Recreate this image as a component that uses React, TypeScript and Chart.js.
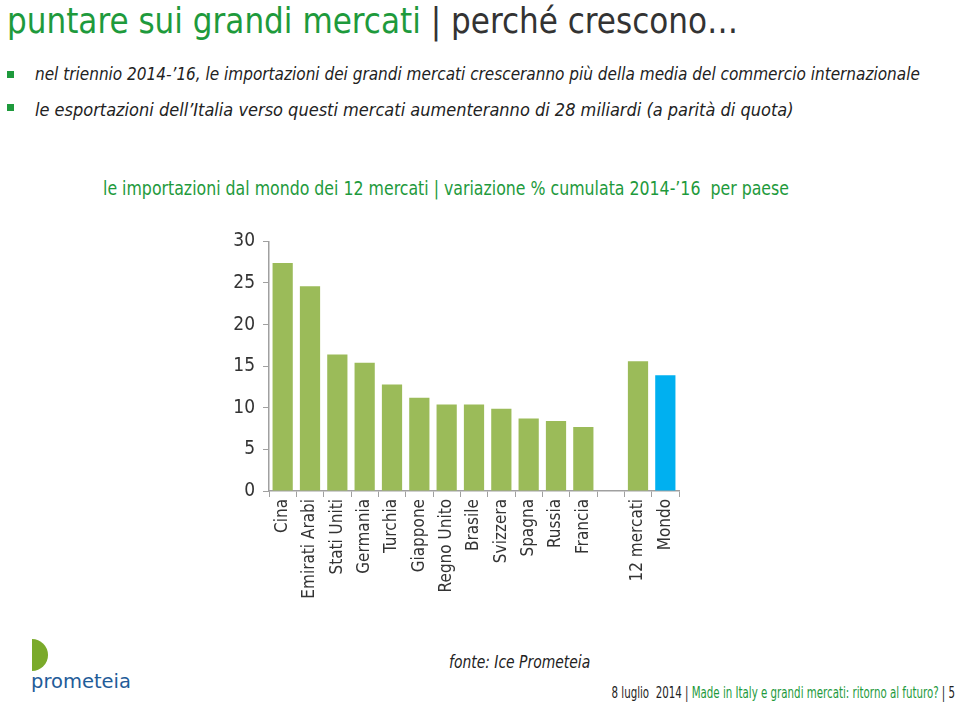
import React, { useEffect, useRef } from "react";
import { Chart, registerables } from "chart.js";

Chart.register(...registerables);

const categories = [
  "Cina",
  "Emirati Arabi",
  "Stati Uniti",
  "Germania",
  "Turchia",
  "Giappone",
  "Regno Unito",
  "Brasile",
  "Svizzera",
  "Spagna",
  "Russia",
  "Francia",
  "",
  "12 mercati",
  "Mondo",
];
const values: (number | null)[] = [27.4, 24.6, 16.4, 15.4, 12.8, 11.2, 10.4, 10.4, 9.9, 8.7, 8.4, 7.7, null, 15.6, 13.9];
const barColors = [
  "#9bbb59", "#9bbb59", "#9bbb59", "#9bbb59", "#9bbb59", "#9bbb59", "#9bbb59",
  "#9bbb59", "#9bbb59", "#9bbb59", "#9bbb59", "#9bbb59", "#9bbb59", "#9bbb59", "#00b0f0",
];
const yTicks = [0, 5, 10, 15, 20, 25, 30];

const FONT = '"Liberation Sans Narrow", "DejaVu Sans Condensed", "Open Sans", sans-serif';
const GREEN = "#1e9a3c";

const sx = (k: number, origin = "left"): React.CSSProperties => ({
  display: "inline-block",
  transform: `scaleX(${k})`,
  transformOrigin: `${origin} center`,
});

export default function App() {
  const ref = useRef<HTMLCanvasElement | null>(null);
  useEffect(() => {
    if (!ref.current) return;
    const chart = new Chart(ref.current, {
      type: "bar",
      data: {
        labels: categories,
        datasets: [
          {
            data: values,
            backgroundColor: barColors,
            barPercentage: 0.74,
            categoryPercentage: 1,
          },
        ],
      },
      options: {
        animation: false,
        responsive: false,
        maintainAspectRatio: false,
        layout: { padding: { top: 12, right: 21, left: 0, bottom: 0 } },
        plugins: { legend: { display: false }, tooltip: { enabled: false } },
        scales: {
          x: {
            offset: true,
            grid: {
              offset: true,
              drawOnChartArea: false,
              drawTicks: true,
              tickLength: 6,
              color: "#a0a0a0",
            },
            border: { color: "#a0a0a0", width: 1.5 },
            ticks: {
              autoSkip: false,
              minRotation: 90,
              maxRotation: 90,
              padding: 2,
              color: "#333",
              font: { family: FONT, size: 17 },
            },
            afterFit: (s: any) => {
              s.height = 121;
            },
          },
          y: {
            min: 0,
            max: 30,
            afterBuildTicks: (s: any) => {
              s.ticks = yTicks.map((v) => ({ value: v }));
            },
            grid: {
              drawOnChartArea: false,
              drawTicks: true,
              tickLength: 6,
              color: "#a0a0a0",
            },
            border: { color: "#a0a0a0", width: 1.5 },
            ticks: {
              padding: 8,
              color: "#333",
              font: { family: FONT, size: 19 },
            },
            afterFit: (s: any) => {
              s.width = 69;
            },
          },
        },
      },
    });
    return () => chart.destroy();
  }, []);

  const bullet = (top: number) => (
    <div style={{ position: "absolute", left: 7, top, width: 7, height: 7, background: "#1e9a3c" }} />
  );

  return (
    <div style={{ position: "fixed", left: 0, top: 0, width: 960, height: 704, background: "#fff", fontFamily: FONT, overflow: "hidden" }}>
      <div style={{ position: "absolute", left: 7, top: 1, fontSize: 36, lineHeight: "40px", whiteSpace: "nowrap" }}>
        <span style={sx(0.96)}>
          <span style={{ color: GREEN }}>puntare sui grandi mercati</span>
          <span style={{ color: "#333" }}> | perché crescono…</span>
        </span>
      </div>
      {bullet(71)}
      <div style={{ position: "absolute", left: 35, top: 63, fontSize: 18, fontStyle: "italic", color: "#222", whiteSpace: "nowrap" }}>
        <span style={sx(0.945)}>
          nel triennio 2014-’16, le importazioni dei grandi mercati cresceranno più della media del commercio internazionale
        </span>
      </div>
      {bullet(104)}
      <div style={{ position: "absolute", left: 35, top: 99, fontSize: 18, fontStyle: "italic", color: "#222", whiteSpace: "nowrap" }}>
        le esportazioni dell’Italia verso questi mercati aumenteranno di 28 miliardi (a parità di quota)
      </div>
      <div style={{ position: "absolute", left: 103, top: 177, fontSize: 19, color: GREEN, whiteSpace: "nowrap" }}>
        <span style={sx(0.923)}>
          le importazioni dal mondo dei 12 mercati | variazione % cumulata 2014-’16&nbsp; per paese
        </span>
      </div>
      <canvas ref={ref} width={500} height={390} style={{ position: "absolute", left: 200, top: 222, width: 500, height: 390 }} />
      <div style={{ position: "absolute", left: 32, top: 639, width: 16, height: 32, background: "#7aaa2a", borderRadius: "0 16px 16px 0" }} />
      <div style={{ position: "absolute", left: 31, top: 670, fontSize: 19.5, color: "#1f5c99", fontFamily: '"DejaVu Sans", sans-serif' }}>
        prometeia
      </div>
      <div style={{ position: "absolute", left: 449, top: 652, fontSize: 17, fontStyle: "italic", color: "#222", whiteSpace: "nowrap" }}>
        <span style={sx(0.91)}>fonte: Ice Prometeia</span>
      </div>
      <div style={{ position: "absolute", right: 5, top: 684, fontSize: 15, lineHeight: "18px", color: "#222", whiteSpace: "nowrap" }}>
        <span style={sx(0.76, "right")}>
          8 luglio&nbsp; 2014 | <span style={{ color: GREEN }}>Made in Italy e grandi mercati: ritorno al futuro?</span> | 5
        </span>
      </div>
    </div>
  );
}
